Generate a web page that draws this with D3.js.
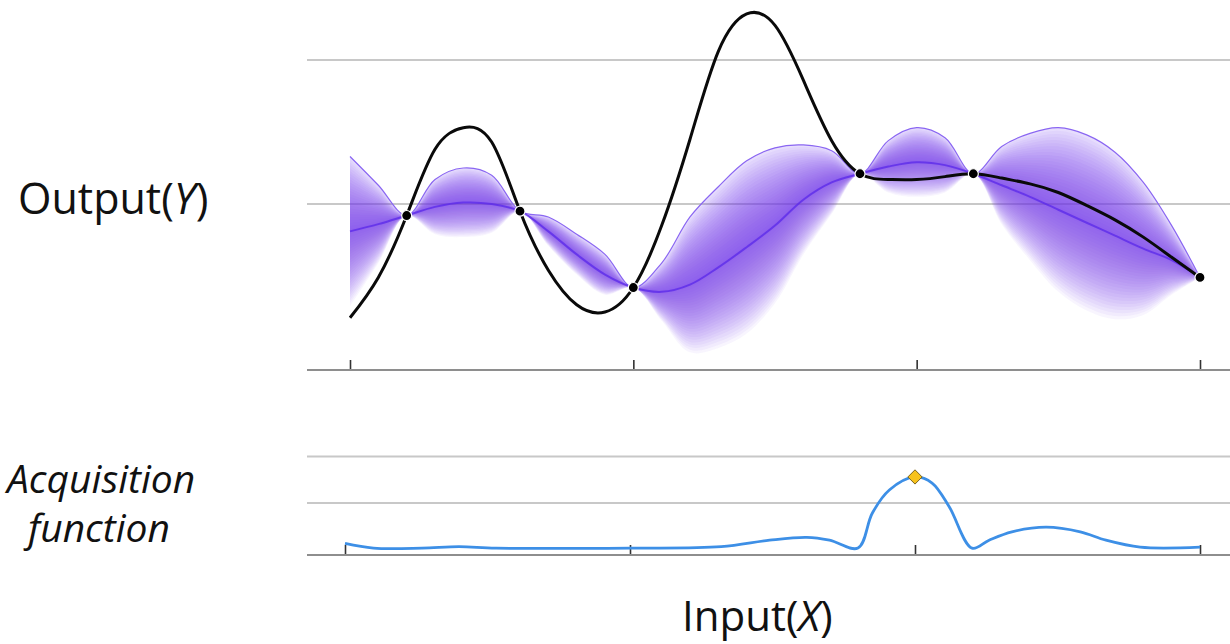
<!DOCTYPE html>
<html>
<head>
<meta charset="utf-8">
<script src="https://cdn.jsdelivr.net/npm/d3@7"></script>
<style>
  body{margin:0;background:#fff}
  text{font-family:'Open Sans',sans-serif;fill:#111}
</style>
</head>
<body>
<svg id="chart" width="1230" height="644"></svg>
<script>

// sample positions along the input axis
var xGrid = [0,0.1,0.2,0.3,0.4,0.5,0.6,0.7,0.8,0.9,1.0,1.1,1.2,1.3,1.4,1.5,
  1.6,1.7,1.8,1.9,2.0,2.1,2.2,2.3,2.4,2.5,2.6,2.7,2.8,2.9,3.0]

// true (hidden) function
var trueY = [-0.79,-0.51,-0.08,0.38,0.53,0.43,-0.05,-0.46,-0.70,-0.75,-0.58,
  -0.15,0.45,1.06,1.32,1.24,0.86,0.44,0.21,0.17,0.17,0.19,0.21,0.18,0.14,
  0.08,-0.01,-0.11,-0.23,-0.37,-0.51]

// GP posterior mean and std dev
var meanY = [-0.19,-0.14,-0.08,-0.02,0.01,0.00,-0.05,-0.19,-0.35,-0.49,-0.58,
  -0.61,-0.56,-0.44,-0.30,-0.15,0.03,0.15,0.21,0.26,0.29,0.27,0.21,0.13,0.05,
  -0.04,-0.13,-0.22,-0.31,-0.39,-0.51]
var sdY = [0.52,0.27,0,0.19,0.24,0.20,0,0.10,0.14,0.14,0,
  0.20,0.47,0.56,0.60,0.54,0.38,0.22,0,0.18,0.24,0.19,0,0.27,0.44,
  0.57,0.61,0.58,0.46,0.24,0]

// observations
var obsX = [0.2,0.6,1.0,1.8,2.2,3.0]
var obsY = [-0.08,-0.05,-0.58,0.21,0.21,-0.51]

// acquisition function
var acqX = [0,0.1,0.27,0.4,0.53,1.0,1.32,1.49,1.62,1.7,1.8,1.85,1.91,2.0,
  2.06,2.12,2.2,2.26,2.34,2.46,2.58,2.67,2.79,3.0]
var acqY = [0.13,0.03,0.03,0.06,0.03,0.03,0.06,0.2,0.26,0.2,0.03,0.78,1.28,1.56,
  1.43,0.92,0.03,0.2,0.38,0.48,0.38,0.2,0.05,0.05]
var acqMaxX = 2.0, acqMaxY = 1.56

var xTicks = [0,1,2,3]
var topGrid = [0,1]
var botGrid = [1,2]


var svg = d3.select('#chart')

var xTop = d3.scaleLinear().domain([0,3]).range([350,1200])
var yTop = d3.scaleLinear().domain([0,1]).range([204,60])
var xBot = d3.scaleLinear().domain([0,3]).range([345,1200])
var yBot = d3.scaleLinear().domain([0,1]).range([549.5,503])

var gridLeft = 307, gridRight = 1230
var topAxisY = 370, botAxisY = 555

// grid lines
svg.selectAll('line.gtop').data(topGrid).join('line')
  .attr('x1', gridLeft).attr('x2', gridRight)
  .attr('y1', d => yTop(d)).attr('y2', d => yTop(d))
  .attr('stroke', '#c8c8c8').attr('stroke-width', 2)

svg.selectAll('line.gbot').data(botGrid).join('line')
  .attr('x1', gridLeft).attr('x2', gridRight)
  .attr('y1', d => yBot(d)).attr('y2', d => yBot(d))
  .attr('stroke', '#c8c8c8').attr('stroke-width', 2)

// axes
function drawAxis(x, y){
  svg.append('line')
    .attr('x1', gridLeft).attr('x2', gridRight)
    .attr('y1', y).attr('y2', y)
    .attr('stroke', '#8e8e8e').attr('stroke-width', 2)
  var g = svg.append('g').attr('transform', `translate(0,${y - 1})`)
    .call(d3.axisTop(x).tickValues(xTicks).tickSize(9).tickSizeOuter(0).tickFormat(''))
  g.select('.domain').remove()
  g.selectAll('.tick line').attr('stroke', '#333').attr('stroke-width', 1.6)
}
drawAxis(xTop, topAxisY)
drawAxis(xBot, botAxisY)


// posterior band
var pts = xGrid.map((x, i) => ({x, mean: meanY[i], sd: sdY[i], y: trueY[i]}))
var curve = d3.curveCatmullRom

var bandG = svg.append('g')
var N = 26
d3.range(1, N + 1).forEach(k => {
  bandG.append('path')
    .datum(pts)
    .attr('d', d3.area().curve(curve)
      .x(d => xTop(d.x))
      .y0(d => yTop(d.mean - d.sd*k/N))
      .y1(d => yTop(d.mean + d.sd*k/N)))
    .attr('fill', '#7641f4').attr('fill-opacity', 0.05)
})

// upper half keeps a light tint up to its edge
bandG.append('path')
  .datum(pts)
  .attr('d', d3.area().curve(curve)
    .x(d => xTop(d.x))
    .y0(d => yTop(d.mean))
    .y1(d => yTop(d.mean + d.sd)))
  .attr('fill', '#7641f4').attr('fill-opacity', 0.13)

// upper edge
svg.append('path').datum(pts)
  .attr('d', d3.line().curve(curve).x(d => xTop(d.x)).y(d => yTop(d.mean + d.sd)))
  .attr('fill', 'none').attr('stroke', '#8a66f2').attr('stroke-width', 1.2)

// mean line
svg.append('path').datum(pts)
  .attr('d', d3.line().curve(curve).x(d => xTop(d.x)).y(d => yTop(d.mean)))
  .attr('fill', 'none').attr('stroke', '#5a28ea').attr('stroke-width', 2).attr('stroke-opacity', 0.75)

// true function
svg.append('path').datum(pts)
  .attr('d', d3.line().curve(d3.curveNatural).x(d => xTop(d.x)).y(d => yTop(d.y)))
  .attr('fill', 'none').attr('stroke', '#0a0a0a').attr('stroke-width', 3)

// observed points
svg.selectAll('circle.obs').data(obsX).join('circle')
  .attr('cx', d => xTop(d)).attr('cy', (d, i) => yTop(obsY[i]))
  .attr('r', 5).attr('fill', '#000').attr('stroke', '#fff').attr('stroke-width', 1.2)


// acquisition
var acq = acqX.map((x, i) => ({x, y: acqY[i]}))
svg.append('path').datum(acq)
  .attr('d', d3.line().curve(d3.curveCatmullRom).x(d => xBot(d.x)).y(d => yBot(d.y)))
  .attr('fill', 'none').attr('stroke', '#3d8fe6').attr('stroke-width', 2.8)

svg.append('path')
  .attr('d', d3.symbol(d3.symbolDiamond2, 130)())
  .attr('transform', `translate(${xBot(acqMaxX)},${yBot(acqMaxY)})`)
  .attr('fill', '#f7c21c').attr('stroke', '#7a6420').attr('stroke-width', 1)


// labels
var outLabel = svg.append('text').attr('x', 18).attr('y', 214).attr('font-size', 43)
outLabel.append('tspan').text('Output(')
outLabel.append('tspan').attr('font-style', 'italic').text('Y')
outLabel.append('tspan').text(')')

svg.append('text').attr('x', 7).attr('y', 493).attr('font-size', 39)
  .attr('font-style', 'italic').text('Acquisition')
svg.append('text').attr('x', 28).attr('y', 542).attr('font-size', 39)
  .attr('font-style', 'italic').text('function')

var inLabel = svg.append('text').attr('x', 682).attr('y', 631).attr('font-size', 42)
inLabel.append('tspan').text('Input(')
inLabel.append('tspan').attr('font-style', 'italic').text('X')
inLabel.append('tspan').text(')')

</script>
</body>
</html>
